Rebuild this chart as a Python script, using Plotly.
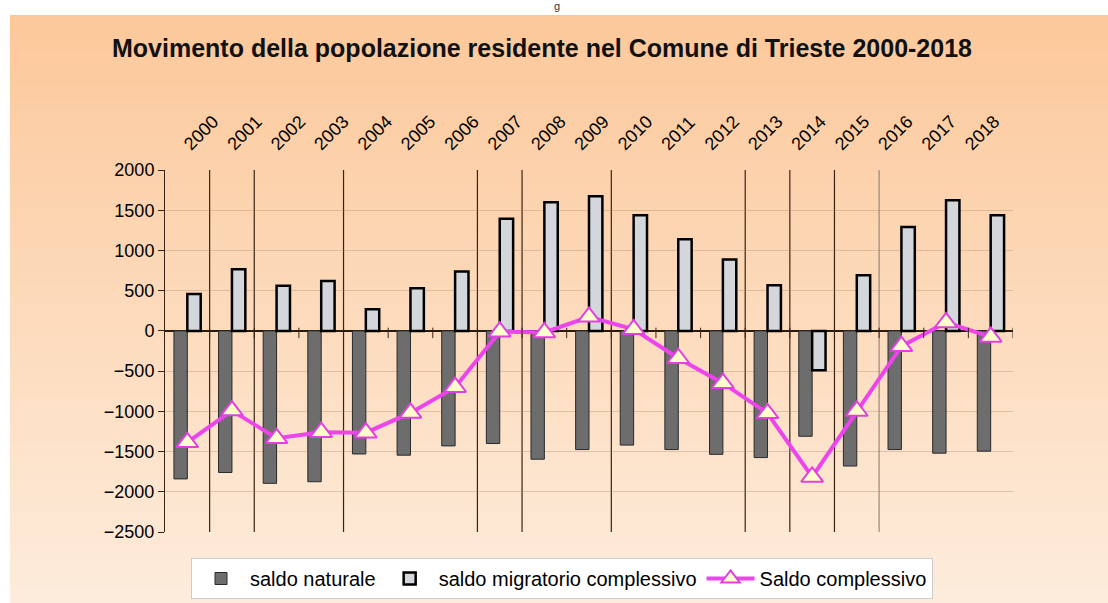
import plotly.graph_objects as go

# ---- data ----
years = [str(y) for y in range(2000, 2019)]
saldo_naturale = [-1840, -1760, -1895, -1875, -1530, -1545, -1430, -1400, -1595, -1475,
                  -1420, -1475, -1535, -1575, -1310, -1680, -1475, -1520, -1495]
saldo_migratorio = [460, 766, 560, 620, 270, 530, 737, 1395, 1600, 1673,
                    1437, 1138, 886, 567, -489, 691, 1292, 1623, 1437]
saldo_complessivo = [-1385, -990, -1335, -1260, -1265, -1020, -700, -10, -20, 175,
                     20, -340, -650, -1025, -1815, -995, -190, 105, -75]
# vertical divider lines drawn after these years
divider_after = ["2000", "2001", "2003", "2006", "2007", "2009", "2012", "2013", "2014", "2015"]
y_ticks = list(range(-2500, 2001, 500))

W, H = 1108, 603
ML, MR, MT, MB = 165, 95, 170, 71
PW, PH = W - ML - MR, H - MT - MB


def px_to_paper_x(px):
    return (px - ML) / PW


def px_to_paper_y(py):
    return (H - MB - py) / PH


fig = go.Figure()

fig.add_trace(go.Bar(
    x=years, y=saldo_naturale, name="saldo naturale",
    marker=dict(color="#6d6d6d", line=dict(color="#2a2a2a", width=1)),
))
fig.add_trace(go.Bar(
    x=years, y=saldo_migratorio, name="saldo migratorio complessivo",
    marker=dict(color="#d3d6da", line=dict(color="#000000", width=2.5)),
))
fig.add_trace(go.Scatter(
    x=years, y=saldo_complessivo, name="Saldo complessivo", mode="lines+markers",
    line=dict(color="#ee44ee", width=4),
    marker=dict(symbol="triangle-up", size=19, color="#ffffcc",
                line=dict(color="#e040e0", width=2)),
))
# invisible carrier trace for the top year-label axis
fig.add_trace(go.Scatter(
    x=list(range(len(years))), y=[0] * len(years), xaxis="x2", yaxis="y",
    mode="markers", marker=dict(opacity=0), showlegend=False, hoverinfo="skip",
))

shapes = []
# background gradient (peach)
top_c = (252, 200, 154)
bot_c = (253, 236, 220)
y0p, y1p = 15, H
n = 120
for i in range(n):
    t = i / (n - 1)
    c = tuple(round(top_c[k] + (bot_c[k] - top_c[k]) * t) for k in range(3))
    a = y0p + (y1p - y0p) * i / n
    b = y0p + (y1p - y0p) * (i + 1) / n + 0.6
    shapes.append(dict(type="rect", xref="paper", yref="paper",
                       x0=px_to_paper_x(10), x1=px_to_paper_x(W + 2),
                       y0=px_to_paper_y(b), y1=px_to_paper_y(a),
                       fillcolor="rgb(%d,%d,%d)" % c, line=dict(width=0), layer="below"))

# small boundary ticks on the zero line
for k in range(1, len(years) + 1):
    shapes.append(dict(type="line", xref="x", yref="y", x0=k - 0.5, x1=k - 0.5,
                       y0=40, y1=-90, line=dict(color="#3b2314", width=1)))

# tall divider lines
for yr in divider_after:
    k = years.index(yr) + 1
    col = "#9a8878" if yr == "2015" else "#3b2314"
    shapes.append(dict(type="line", xref="x", yref="y", x0=k - 0.5, x1=k - 0.5,
                       y0=y_ticks[0], y1=y_ticks[-1], line=dict(color=col, width=1.2),
                       layer="below"))

fig.update_layout(
    width=W, height=H,
    margin=dict(l=ML, r=MR, t=MT, b=MB, autoexpand=False),
    paper_bgcolor="white",
    plot_bgcolor="rgba(0,0,0,0)",
    barmode="group", bargap=0.4, bargroupgap=0,
    font=dict(family="Liberation Sans, Arial, sans-serif", color="black"),
    title=dict(text="<b>Movimento della popolazione residente nel Comune di Trieste 2000-2018</b>",
               x=542 / W, xanchor="center", y=1 - 48 / H, yanchor="middle",
               font=dict(size=25, color="#111111")),
    shapes=shapes,
    showlegend=True,
    legend=dict(orientation="h", xref="container", yref="container",
                x=562 / W, xanchor="center", y=1 - 558 / H, yanchor="top",
                bgcolor="white", bordercolor="#cccccc", borderwidth=1,
                itemwidth=48,
                font=dict(size=20, color="black"), traceorder="normal"),
    annotations=[dict(text="g", xref="paper", yref="paper",
                      x=px_to_paper_x(557), y=px_to_paper_y(6), showarrow=False,
                      font=dict(size=11, color="#333333"), yanchor="middle")],
    xaxis=dict(type="category", range=[-0.5, len(years) - 0.5],
               showline=False, showgrid=False, zeroline=False, showticklabels=False,
               ticks=""),
    # year labels on top are spaced slightly tighter than the bars (as in the original)
    xaxis2=dict(overlaying="x", side="top",
                range=[-0.461, 19.083],
                tickvals=list(range(len(years))), ticktext=years, tickangle=-45,
                showline=False, showgrid=False, zeroline=False,
                ticks="outside", ticklen=8, tickcolor="rgba(0,0,0,0)",
                tickfont=dict(size=18, color="black")),
)

fig.update_yaxes(range=[y_ticks[0], y_ticks[-1]], tickvals=y_ticks,
                 showline=True, linecolor="#3b2314", linewidth=1,
                 ticks="outside", ticklen=6, tickcolor="#3b2314",
                 showgrid=True, gridcolor="rgba(170,130,100,0.35)", gridwidth=1,
                 zeroline=True, zerolinecolor="#2b1a10", zerolinewidth=1.5,
                 tickfont=dict(size=18, color="black"))

fig.write_html("out.html", config={"displayModeBar": False},
               post_script="document.body.style.margin='0';")
